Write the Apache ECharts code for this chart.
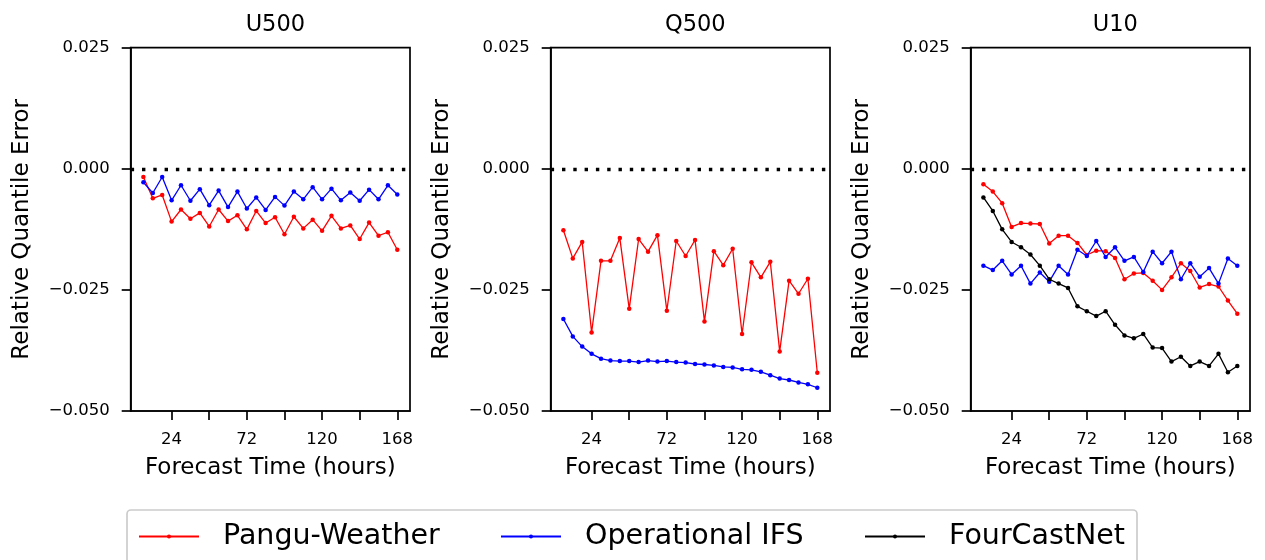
<!DOCTYPE html>
<html>
<head>
<meta charset="utf-8">
<script src="https://cdn.jsdelivr.net/npm/echarts@6/dist/echarts.min.js"></script>
<style>
html,body{margin:0;padding:0;background:#fff;}
#chart{width:1265px;height:560px;}
</style>
</head>
<body>
<div id="chart"></div>
<script>
// ---- data ----
const hours = [6,12,18,24,30,36,42,48,54,60,66,72,78,84,90,96,102,108,114,120,126,132,138,144,150,156,162,168];
const panelTitles = ['U500','Q500','U10'];
const seriesNames = ['Pangu-Weather','Operational IFS','FourCastNet'];

const u500Pangu = [-0.0017,-0.0061,-0.0054,-0.0109,-0.0084,-0.0103,-0.0091,-0.0119,-0.0084,-0.0108,-0.0096,-0.0125,-0.0087,-0.0112,-0.0100,-0.0135,-0.0099,-0.0123,-0.0105,-0.0128,-0.0097,-0.0123,-0.0117,-0.0145,-0.0111,-0.0138,-0.0131,-0.0167];
const u500IFS = [-0.0028,-0.0050,-0.0017,-0.0065,-0.0034,-0.0066,-0.0042,-0.0075,-0.0045,-0.0079,-0.0047,-0.0082,-0.0059,-0.0085,-0.0058,-0.0076,-0.0047,-0.0063,-0.0038,-0.0063,-0.0041,-0.0065,-0.0049,-0.0066,-0.0043,-0.0063,-0.0034,-0.0053];

const q500Pangu = [-0.0127,-0.0185,-0.0151,-0.0338,-0.0190,-0.0190,-0.0143,-0.0289,-0.0145,-0.0171,-0.0137,-0.0293,-0.0149,-0.0180,-0.0147,-0.0315,-0.0170,-0.0199,-0.0165,-0.0341,-0.0193,-0.0224,-0.0192,-0.0377,-0.0231,-0.0258,-0.0227,-0.0421];
const q500IFS = [-0.0310,-0.0346,-0.0367,-0.0382,-0.0392,-0.0396,-0.0397,-0.0397,-0.0399,-0.0396,-0.0398,-0.0397,-0.0399,-0.0400,-0.0403,-0.0404,-0.0406,-0.0409,-0.0410,-0.0414,-0.0415,-0.0419,-0.0426,-0.0433,-0.0436,-0.0441,-0.0445,-0.0452];

const u10Pangu = [-0.0032,-0.0047,-0.0071,-0.0120,-0.0112,-0.0113,-0.0114,-0.0154,-0.0138,-0.0138,-0.0153,-0.0178,-0.0169,-0.0170,-0.0184,-0.0228,-0.0216,-0.0215,-0.0231,-0.0250,-0.0224,-0.0195,-0.0211,-0.0245,-0.0238,-0.0243,-0.0272,-0.0299];
const u10IFS = [-0.0200,-0.0209,-0.0190,-0.0218,-0.0200,-0.0237,-0.0214,-0.0233,-0.0200,-0.0218,-0.0167,-0.0180,-0.0149,-0.0182,-0.0162,-0.0190,-0.0182,-0.0213,-0.0171,-0.0195,-0.0171,-0.0228,-0.0195,-0.0223,-0.0205,-0.0237,-0.0185,-0.0200];
const u10FourCastNet = [-0.0059,-0.0087,-0.0125,-0.0151,-0.0162,-0.0177,-0.0200,-0.0228,-0.0237,-0.0246,-0.0284,-0.0294,-0.0304,-0.0294,-0.0322,-0.0344,-0.0350,-0.0341,-0.0369,-0.0370,-0.0398,-0.0388,-0.0407,-0.0398,-0.0407,-0.0382,-0.0420,-0.0407];

const xTickValues = [24,48,72,96,120,144,168];
const xLabelValues = [24,72,120,168];
const yTickValues = [-0.05,-0.025,0,0.025];
const yTickLabels = ['\u22120.050','\u22120.025','0.000','0.025'];

// ---- layout ----
const FONT = 'DejaVu Sans';
const gridLefts = [130.7, 550.7, 970.7];
const gridTop = 47.7, gridW = 279.3, gridH = 363.3;
const colors = {'Pangu-Weather':'#ff0000','Operational IFS':'#0000ff','FourCastNet':'#000000'};

const panels = [
  [['Pangu-Weather', u500Pangu], ['Operational IFS', u500IFS]],
  [['Pangu-Weather', q500Pangu], ['Operational IFS', q500IFS]],
  [['Pangu-Weather', u10Pangu], ['Operational IFS', u10IFS], ['FourCastNet', u10FourCastNet]]
];

const grid = [], xAxis = [], yAxis = [], title = [], series = [];
panels.forEach((p, k) => {
  grid.push({left: gridLefts[k], top: gridTop, width: gridW, height: gridH, show: true,
    borderColor: '#000', borderWidth: 1.7, backgroundColor: 'transparent'});
  title.push({text: panelTitles[k], left: gridLefts[k] + gridW / 2, top: 9, textAlign: 'center',
    textStyle: {fontFamily: FONT, fontSize: 22.5, fontWeight: 'normal', color: '#000'}});
  xAxis.push({type: 'value', gridIndex: k, min: -2.1, max: 176.1,
    name: 'Forecast Time (hours)', nameLocation: 'middle', nameGap: 46,
    nameTextStyle: {fontFamily: FONT, fontSize: 23, color: '#000'},
    axisLine: {show: true, onZero: false, lineStyle: {color: '#000', width: 1.7}},
    axisTick: {show: true, inside: false, length: 9, customValues: xTickValues, lineStyle: {color: '#000', width: 1.7}},
    axisLabel: {show: true, margin: 20, customValues: xLabelValues, fontFamily: FONT, fontSize: 16.5, color: '#000'},
    splitLine: {show: false}});
  yAxis.push({type: 'value', gridIndex: k, min: -0.05, max: 0.025, interval: 0.025,
    name: 'Relative Quantile Error', nameLocation: 'middle', nameGap: 97,
    nameTextStyle: {fontFamily: FONT, fontSize: 23, color: '#000'},
    axisLine: {show: true, onZero: false, lineStyle: {color: '#000', width: 1.7}},
    axisTick: {show: true, inside: false, length: 9, lineStyle: {color: '#000', width: 1.7}},
    axisLabel: {show: true, margin: 21, fontFamily: FONT, fontSize: 16.5, color: '#000',
      formatter: (v) => { const i = yTickValues.findIndex(t => Math.abs(t - v) < 1e-9); return i >= 0 ? yTickLabels[i] : ''; }},
    splitLine: {show: false}});
  p.forEach(([name, arr], j) => {
    const s = {name, type: 'line', xAxisIndex: k, yAxisIndex: k,
      data: hours.map((h, i) => [h, arr[i]]),
      symbol: 'circle', symbolSize: 4.5, showSymbol: true,
      itemStyle: {color: colors[name]},
      lineStyle: {color: colors[name], width: 1.3},
      z: 3 + j, animation: false};
    if (j === 0) {
      s.markLine = {silent: true, symbol: 'none', animation: false,
        label: {show: false}, emphasis: {disabled: true},
        lineStyle: {color: '#000', width: 3.4, type: [3.4, 7.9], cap: 'butt'},
        data: [{yAxis: 0}]};
    }
    series.push(s);
  });
});

const legendLefts = [138, 500, 864];
const legend = seriesNames.map((n, i) => ({
  data: [n], left: legendLefts[i], top: 522, padding: 0, itemWidth: 60, itemHeight: 5, itemGap: 0,
  selectedMode: false,
  textStyle: {fontFamily: FONT, fontSize: 28.5, color: '#000', padding: [0, 0, 0, 19]}
}));

const chart = echarts.init(document.getElementById('chart'), null, {renderer: 'canvas'});
chart.setOption({
  animation: false,
  backgroundColor: '#fff',
  title, grid, xAxis, yAxis, series, legend,
  graphic: [{type: 'rect', shape: {x: 127, y: 510, width: 1010, height: 62, r: 4},
    style: {fill: 'transparent', stroke: '#cccccc', lineWidth: 1.7}, silent: true, z: 0}]
});
</script>
</body>
</html>
